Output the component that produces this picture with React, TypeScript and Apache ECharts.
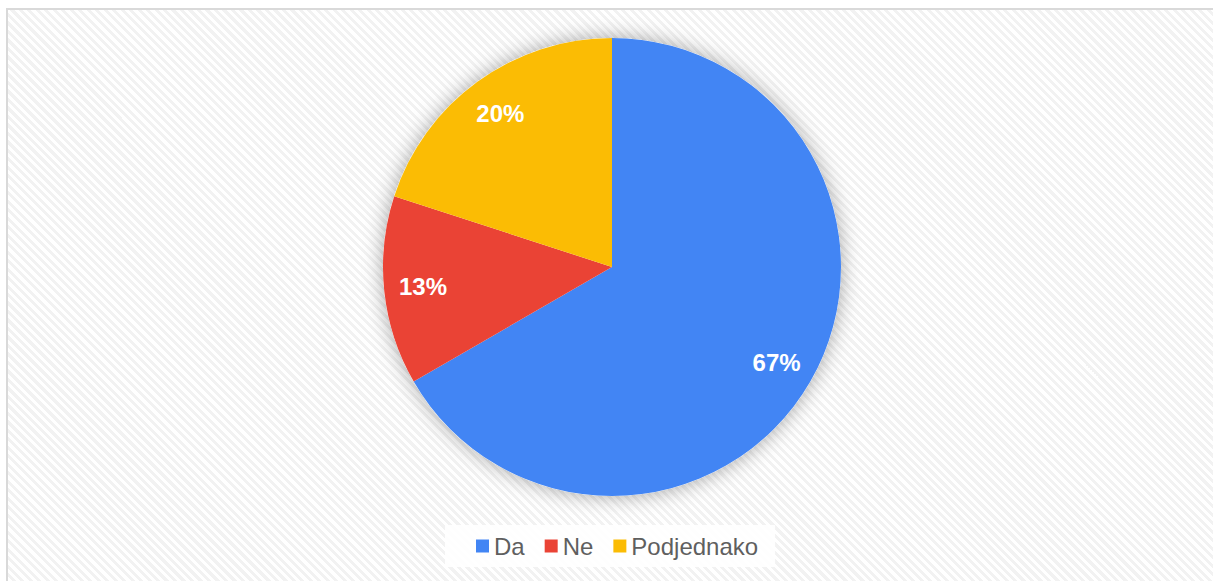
import React, { useEffect, useRef } from "react";
import * as echarts from "echarts";

const categories = ["Da", "Ne", "Podjednako"];
const values = [10, 2, 3];
const colors = ["#4285f4", "#ea4335", "#fbbc04"];

const FONT = 'Arial, "Liberation Sans", sans-serif';

export default function App() {
  const ref = useRef<HTMLDivElement>(null);

  useEffect(() => {
    if (!ref.current) return;
    const chart = echarts.init(ref.current, undefined, { renderer: "svg" });
    const total = values.reduce((a, b) => a + b, 0);
    const mainData = categories.map((name, i) => ({
      name,
      value: values[i],
      itemStyle: { color: colors[i] },
    }));
    const labelData = categories.map((name, i) => ({
      name,
      value: values[i],
    }));
    const center = [604, 257];
    chart.setOption({
      animation: false,
      legend: {
        data: categories,
        left: 437,
        top: 515,
        orient: "horizontal",
        icon: "rect",
        itemWidth: 13,
        itemHeight: 13,
        itemGap: 20,
        padding: [9, 17, 9, 31],
        backgroundColor: "rgba(255,255,255,0.92)",
        textStyle: { fontSize: 24, color: "#5f5f5f", fontFamily: FONT },
      },
      series: [
        {
          type: "pie",
          name: "shadow",
          silent: true,
          center,
          radius: 229,
          z: 1,
          label: { show: false },
          labelLine: { show: false },
          itemStyle: {
            color: "#ffffff",
            shadowBlur: 20,
            shadowColor: "rgba(0,0,0,0.35)",
          },
          data: [{ name: "_shadow", value: 1 }],
        },
        {
          type: "pie",
          name: "main",
          center,
          radius: 229,
          z: 2,
          startAngle: 90,
          clockwise: true,
          label: { show: false },
          labelLine: { show: false },
          itemStyle: { borderWidth: 0 },
          emphasis: { disabled: true },
          data: mainData,
        },
        {
          type: "pie",
          name: "labels",
          silent: true,
          center,
          radius: [146, 228],
          z: 3,
          startAngle: 90,
          clockwise: true,
          itemStyle: { color: "transparent" },
          emphasis: { disabled: true },
          labelLine: { show: false },
          label: {
            show: true,
            position: "inside",
            color: "#ffffff",
            fontSize: 24,
            fontWeight: "bold",
            fontFamily: FONT,
            formatter: (p: any) => Math.round((p.value / total) * 100) + "%",
          },
          data: labelData,
        },
      ],
    });
    return () => chart.dispose();
  }, []);

  return (
    <div
      style={{
        position: "absolute",
        left: 6,
        top: 8,
        width: 1207,
        height: 573,
        boxSizing: "border-box",
        borderTop: "2px solid #d9d9d9",
        borderLeft: "2px solid #d9d9d9",
        background:
          "repeating-linear-gradient(45deg, #ffffff 0px, #ffffff 3px, #f2f2f2 3px, #f2f2f2 6px)",
        overflow: "hidden",
      }}
    >
      <div ref={ref} style={{ width: 1205, height: 571 }} />
    </div>
  );
}
